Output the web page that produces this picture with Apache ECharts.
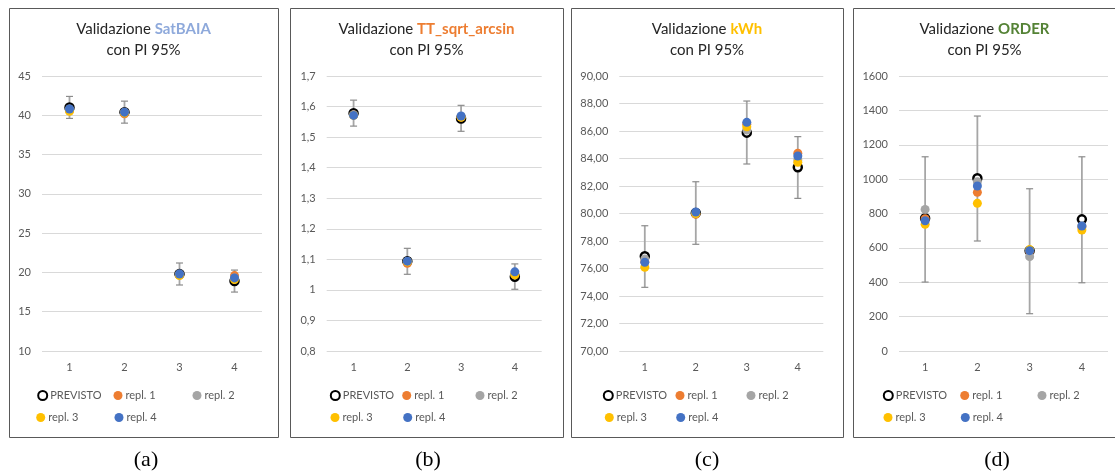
<!DOCTYPE html>
<html><head><meta charset="utf-8">
<script src="https://cdn.jsdelivr.net/npm/echarts@6/dist/echarts.min.js"></script>
<style>html,body{margin:0;padding:0;background:#fff}#c{width:1115px;height:476px}</style>
</head><body><div id="c"></div>
<script>
const categories = ['1', '2', '3', '4'];
const seriesNames = ['PREVISTO', 'repl. 1', 'repl. 2', 'repl. 3', 'repl. 4'];

// (a) SatBAIA
const satPrev = [41.0, 40.4, 19.8, 18.9];
const satR1 = [40.6, 40.2, 19.7, 19.6];
const satR2 = [40.8, 40.4, 19.8, 19.3];
const satR3 = [40.5, 40.3, 19.6, 19.1];
const satR4 = [40.8, 40.4, 19.8, 19.3];
const satLow = [39.6, 39.0, 18.4, 17.5];
const satHigh = [42.4, 41.8, 21.2, 20.3];

// (b) TT_sqrt_arcsin
const ttPrev = [1.578, 1.094, 1.561, 1.043];
const ttR1 = [1.572, 1.087, 1.566, 1.050];
const ttR2 = [1.573, 1.093, 1.567, 1.052];
const ttR3 = [1.571, 1.092, 1.565, 1.049];
const ttR4 = [1.571, 1.094, 1.569, 1.059];
const ttLow = [1.536, 1.051, 1.519, 1.002];
const ttHigh = [1.621, 1.136, 1.604, 1.085];

// (c) kWh
const kwhPrev = [76.89, 80.04, 85.88, 83.36];
const kwhR1 = [76.50, 79.94, 86.50, 84.38];
const kwhR2 = [76.70, 80.00, 86.07, 83.90];
const kwhR3 = [76.09, 80.00, 86.31, 83.72];
const kwhR4 = [76.45, 80.11, 86.63, 84.18];
const kwhLow = [74.63, 77.76, 83.60, 81.10];
const kwhHigh = [79.11, 82.31, 88.18, 85.59];

// (d) ORDER
const ordPrev = [772, 1005, 583, 766];
const ordR1 = [770, 923, 580, 722];
const ordR2 = [824, 985, 549, 728];
const ordR3 = [737, 859, 590, 704];
const ordR4 = [758, 960, 584, 727];
const ordLow = [401, 640, 217, 397];
const ordHigh = [1130, 1367, 944, 1130];

// y axis tick settings
const yMins = [10, 0.8, 70, 0];
const yMaxs = [45, 1.7, 90, 1600];
const yIntervals = [5, 0.1, 2, 200];

const titleWords = ['SatBAIA', 'TT_sqrt_arcsin', 'kWh', 'ORDER'];
const captions = ['(a)', '(b)', '(c)', '(d)'];

const panels = [
  {prev: satPrev, reps: [satR1, satR2, satR3, satR4], low: satLow, high: satHigh},
  {prev: ttPrev, reps: [ttR1, ttR2, ttR3, ttR4], low: ttLow, high: ttHigh},
  {prev: kwhPrev, reps: [kwhR1, kwhR2, kwhR3, kwhR4], low: kwhLow, high: kwhHigh},
  {prev: ordPrev, reps: [ordR1, ordR2, ordR3, ordR4], low: ordLow, high: ordHigh}
];

// layout
const boxes = [
  {x: 9, w: 269, gl: 42, gw: 220, leg: [[41.7, 118, 197], [40.7, 119]]},
  {x: 290, w: 273, gl: 326.7, gw: 215, leg: [[334.3, 406.7, 480], [335, 407.7]]},
  {x: 571, w: 272, gl: 619.3, gw: 204, leg: [[607.3, 680, 751], [609.3, 680.7]]},
  {x: 853, w: 270, gl: 899, gw: 209, leg: [[887.3, 964.7, 1042], [888, 965.3]]}
];
const hlColors = ['#8EA9DB', '#ED7D31', '#FFC000', '#548235'];
const repColors = ['#ED7D31', '#A5A5A5', '#FFC000', '#4472C4'];
const captionX = [146, 428, 707, 997];
const FONT = 'Lato, "Open Sans", sans-serif';

const formatters = [
  v => String(Math.round(v)),
  v => String(+v.toFixed(1)).replace('.', ','),
  v => v.toFixed(2).replace('.', ','),
  v => String(Math.round(v))
];

const grids = [], xAxes = [], yAxes = [], series = [], legends = [], graphics = [];

panels.forEach((p, i) => {
  const b = boxes[i];
  grids.push({left: b.gl, top: 76, width: b.gw, height: 275});
  xAxes.push({
    type: 'category', gridIndex: i, data: categories,
    axisLine: {show: false}, axisTick: {show: false},
    axisLabel: {color: '#595959', fontSize: 11, fontFamily: FONT, margin: 11},
    splitLine: {show: false}
  });
  yAxes.push({
    type: 'value', gridIndex: i, min: yMins[i], max: yMaxs[i], interval: yIntervals[i],
    axisLine: {show: false}, axisTick: {show: false},
    axisLabel: {color: '#595959', fontSize: 11, fontFamily: FONT, margin: 11, formatter: formatters[i]},
    splitLine: {lineStyle: {color: '#D9D9D9', width: 1}}
  });
  // error bars
  series.push({
    type: 'custom', xAxisIndex: i, yAxisIndex: i, z: 1, silent: true,
    data: categories.map((c, k) => [k, p.low[k], p.high[k]]),
    encode: {x: 0, y: [1, 2]},
    renderItem: (params, api) => {
      const lo = api.coord([api.value(0), api.value(1)]);
      const hi = api.coord([api.value(0), api.value(2)]);
      const cw = 3.5;
      const st = {stroke: '#8C8C8C', lineWidth: 1.2};
      return {type: 'group', children: [
        {type: 'line', shape: {x1: lo[0], y1: lo[1], x2: hi[0], y2: hi[1]}, style: {stroke: '#A6A6A6', lineWidth: 1.8}},
        {type: 'line', shape: {x1: lo[0] - cw, y1: lo[1], x2: lo[0] + cw, y2: lo[1]}, style: st},
        {type: 'line', shape: {x1: hi[0] - cw, y1: hi[1], x2: hi[0] + cw, y2: hi[1]}, style: st}
      ]};
    }
  });
  series.push({
    type: 'scatter', name: 'PREVISTO', xAxisIndex: i, yAxisIndex: i, z: 2,
    symbol: 'circle', symbolSize: 8,
    itemStyle: {color: '#FFFFFF', borderColor: '#000000', borderWidth: 2.5, opacity: 1},
    data: p.prev
  });
  p.reps.forEach((r, j) => {
    series.push({
      type: 'scatter', name: seriesNames[j + 1], xAxisIndex: i, yAxisIndex: i, z: 3 + j,
      symbol: 'circle', symbolSize: 9,
      itemStyle: {color: repColors[j], opacity: 1},
      data: r
    });
  });
  // legends: one per item, grid-like placement
  const rows = [[0, 1, 2], [3, 4]];
  const tops = [390, 412];
  rows.forEach((row, ri) => {
    row.forEach((si, ci) => {
      legends.push({
        data: [si === 0 ? {name: 'PREVISTO', icon: 'circle', itemStyle: {color: '#fff', borderColor: '#000', borderWidth: 2}} : {name: seriesNames[si], icon: 'circle'}],
        left: b.leg[ri][ci] - 4.5, top: tops[ri], padding: 0,
        itemWidth: 9, itemHeight: 9, selectedMode: false,
        textStyle: {color: '#595959', fontSize: 11, fontFamily: FONT, padding: [0, 0, 0, -2]}
      });
    });
  });
  // border
  graphics.push({type: 'rect', shape: {x: b.x + 0.5, y: 8.5, width: b.w, height: 429}, style: {fill: 'none', stroke: '#595959', lineWidth: 1}, z: 0, silent: true});
  // titles
  const cx = b.x + b.w / 2;
  graphics.push({type: 'text', x: (i === 3 ? 853 + 269 / 2 - 3 : cx), y: 29, style: {
    text: '{n|Validazione }{h|' + titleWords[i] + '}', align: 'center', verticalAlign: 'middle',
    rich: {n: {fontSize: 15, fontFamily: FONT, fill: '#262626', color: '#262626'}, h: {fontSize: 15, fontFamily: FONT, fontWeight: 'bold', fill: hlColors[i], color: hlColors[i]}}
  }, z: 10});
  graphics.push({type: 'text', x: (i === 3 ? 853 + 269 / 2 - 3 : cx), y: 50, style: {
    text: 'con PI 95%', align: 'center', verticalAlign: 'middle', fontSize: 15, fontFamily: FONT, fill: '#262626'
  }, z: 10});
  graphics.push({type: 'text', x: captionX[i], y: 460, style: {
    text: captions[i], align: 'center', verticalAlign: 'middle', fontSize: 22, fontFamily: '"Liberation Serif", "DejaVu Serif", serif', fill: '#000'
  }, z: 10});
});

const chart = echarts.init(document.getElementById('c'), null, {renderer: 'canvas'});
chart.setOption({
  animation: false,
  backgroundColor: '#FFFFFF',
  grid: grids, xAxis: xAxes, yAxis: yAxes, series: series, legend: legends, graphic: graphics
});
</script></body></html>
